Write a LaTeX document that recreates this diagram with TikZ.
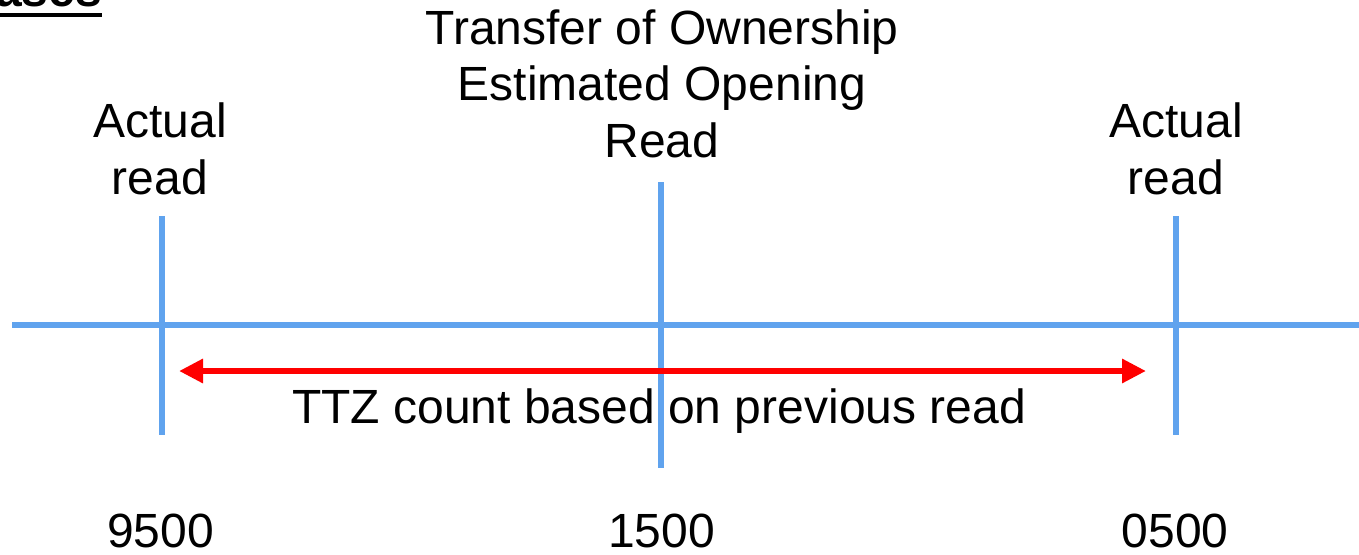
\documentclass[tikz,border=0pt]{standalone}
\usepackage{fontspec}
\setmainfont{Liberation Sans}
\usetikzlibrary{arrows.meta}
\definecolor{lineblue}{RGB}{96,163,238}
\definecolor{arrowred}{RGB}{255,0,0}
\tikzset{
  bigtext/.style={font=\fontsize{48}{56.5}\selectfont, inner sep=0pt, align=center, anchor=base},
  tickline/.style={draw=lineblue, line width=6.5pt},
  spanarrow/.style={draw=arrowred, line width=6.5pt, {Triangle[length=24pt,width=23pt]}-{Triangle[length=24pt,width=23pt]}}
}
\begin{document}
\begin{tikzpicture}[x=1pt,y=-1pt]
\useasboundingbox (0,0) rectangle (1359,554);
% cut-off heading
\node[font=\fontsize{48}{56}\selectfont\bfseries, inner sep=0pt, anchor=base east] (head) at (102,6) {Cases};
\draw[line width=4pt] (head.base west |- 0,15) -- (102,15) coordinate (headend);
% axis
\coordinate (axl) at (12,325);
\coordinate (axr) at (1362,325);
\draw[tickline] (axl) -- (axr);
\coordinate (t1top) at (162,216); \coordinate (t1bot) at (162,435);
\coordinate (t2top) at (661,182); \coordinate (t2bot) at (661,468);
\coordinate (t3top) at (1176,216); \coordinate (t3bot) at (1176,435);
\draw[tickline] (t1top) -- (t1bot);
\draw[tickline] (t2top) -- (t2bot);
\draw[tickline] (t3top) -- (t3bot);
% red span arrow
\coordinate (al) at (179,371);
\coordinate (ar) at (1146,371);
\draw[spanarrow] (al) -- (ar);
% labels
\node[bigtext] (lab1) at (160,194) {Actual\\read};
\node[bigtext] (lab3) at (1176,194) {Actual\\read};
\node[bigtext] (lab2) at (662,157) {Transfer of Ownership\\Estimated Opening\\Read};
\node[bigtext] (ttz) at (659,423) {TTZ count based on previous read};
\node[bigtext] (n1) at (160.5,547) {9500};
\node[bigtext] (n2) at (661.5,547) {1500};
\node[bigtext] (n3) at (1175,547) {0500};
\end{tikzpicture}
\end{document}
